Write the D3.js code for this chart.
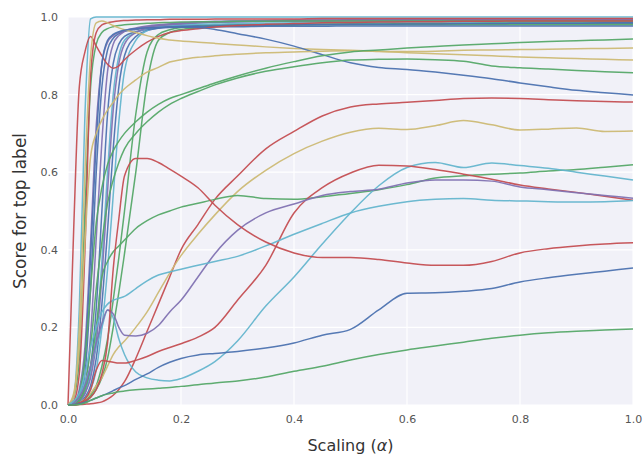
<!DOCTYPE html>
<html>
<head>
<meta charset="utf-8">
<script src="https://cdn.jsdelivr.net/npm/d3@7"></script>
<style>
  html, body { margin: 0; padding: 0; background: #ffffff; }
  svg { display: block; }
</style>
</head>
<body>
<svg id="chart" width="643" height="459"></svg>
<script>
// Scaling (alpha) sample points shared by all series
const alpha = [0,.01,.02,.03,.04,.05,.06,.07,.08,.09,.10,
               .12,.14,.16,.18,.20,
               .23,.26,.30,.35,.40,.45,
               .50,.55,.60,.65,.70,.75,.80,.85,.90,.95,1.0];

const xTicks = [0, 0.2, 0.4, 0.6, 0.8, 1.0];
const yTicks = [0, 0.2, 0.4, 0.6, 0.8, 1.0];

// ----- series values (score for top label) -----
const cyanFast = [0,.02,.25,.75,.995,1,1,1,1,1,1, 1,1,1,1,1, 1,1,1,1,1,1, 1,1,1,1,1,1,1,1,1,1,1];
const greenS2  = [0,.02,.12,.5,.82,.93,.96,.97,.975,.978,.98, .982,.984,.985,.986,.987, .988,.988,.989,.989,.99,.99, .99,.99,.99,.99,.99,.99,.99,.99,.99,.99,.99];
const purpleS4 = [0,.005,.04,.15,.42,.72,.88,.935,.952,.96,.965, .97,.975,.978,.98,.982, .985,.987,.989,.99,.991,.992, .993,.993,.994,.994,.994,.995,.995,.995,.995,.995,.995];
const blueS5   = [0,.003,.02,.08,.3,.6,.82,.915,.945,.957,.963, .968,.971,.973,.974,.975, .976,.977,.978,.979,.98,.98, .981,.981,.982,.982,.983,.983,.984,.984,.984,.985,.985];
const purpleS6 = [0,.002,.015,.05,.18,.43,.68,.86,.93,.952,.963, .972,.977,.98,.982,.984, .986,.987,.988,.989,.99,.99, .991,.991,.991,.991,.991,.992,.992,.992,.992,.992,.992];
const blueS7   = [0,.002,.01,.03,.1,.25,.5,.75,.88,.93,.95, .962,.968,.971,.973,.974, .975,.975,.975,.976,.976,.976, .977,.977,.977,.977,.977,.977,.977,.977,.977,.977,.977];
const cyanS8   = [0,.002,.01,.03,.08,.18,.37,.6,.8,.9,.94, .96,.97,.975,.978,.98, .981,.982,.983,.984,.985,.985, .986,.986,.987,.987,.987,.988,.988,.988,.988,.988,.988];
const blueS9   = [0,.001,.005,.02,.05,.12,.26,.45,.66,.82,.9, .95,.965,.972,.976,.978, .979,.98,.98,.981,.981,.982, .982,.982,.983,.983,.983,.983,.984,.984,.984,.984,.984];
const cyanS10  = [0,.001,.005,.015,.04,.09,.2,.35,.54,.73,.86, .94,.965,.975,.98,.983, .985,.986,.987,.988,.989,.989, .99,.99,.99,.99,.99,.99,.99,.99,.99,.99,.99];
const greenS11 = [0,.001,.003,.01,.025,.05,.1,.17,.27,.38,.5, .75,.91,.955,.967,.973, .976,.978,.979,.98,.981,.982, .983,.983,.984,.984,.984,.985,.985,.985,.985,.985,.985];
const greenS12 = [0,0,.002,.008,.02,.04,.07,.12,.2,.29,.39, .6,.83,.94,.96,.968, .972,.975,.977,.978,.979,.98, .98,.98,.98,.98,.98,.98,.98,.98,.98,.98,.98];
const redS13   = [0,.01,.08,.4,.85,.96,.98,.985,.988,.99,.991, .992,.993,.993,.994,.994, .994,.995,.995,.995,.995,.996, .996,.996,.996,.996,.996,.996,.996,.996,.996,.996,.996];
const purpleS15= [0,.002,.01,.03,.07,.16,.33,.55,.76,.88,.93, .96,.972,.978,.982,.985, .987,.989,.99,.991,.992,.992, .993,.993,.993,.993,.993,.993,.993,.993,.993,.993,.993];
const redDip   = [0,.45,.82,.91,.95,.925,.9,.878,.868,.874,.89, .915,.935,.95,.96,.965, .97,.974,.978,.981,.983,.985, .986,.987,.988,.988,.989,.989,.99,.99,.99,.99,.99];
const yellow92 = [0,.02,.2,.6,.9,.985,.99,.985,.978,.972,.967, .96,.952,.945,.941,.938, .935,.932,.928,.923,.919,.916, .914,.912,.911,.912,.914,.915,.916,.917,.918,.919,.92];
const blue79   = [0,.005,.03,.12,.38,.68,.88,.94,.955,.962,.966, .97,.972,.973,.974,.974, .973,.968,.957,.943,.925,.903, .882,.87,.865,.858,.85,.841,.83,.82,.811,.805,.799];
const yellow89 = [0,.03,.15,.42,.64,.7,.735,.76,.78,.8,.815, .838,.858,.87,.884,.89, .896,.9,.904,.908,.91,.912, .913,.911,.908,.905,.903,.9,.897,.895,.893,.891,.889];
const green93  = [0,.005,.03,.12,.3,.47,.56,.62,.655,.68,.7, .73,.755,.775,.79,.8, .815,.83,.848,.868,.885,.9, .91,.915,.92,.924,.928,.931,.934,.937,.939,.941,.943];
const green85  = [0,.003,.015,.05,.15,.3,.42,.52,.58,.625,.66, .7,.73,.755,.775,.79, .808,.825,.843,.86,.872,.882, .889,.891,.892,.89,.886,.874,.869,.866,.862,.859,.856];
const red77    = [0,0,.001,.002,.003,.005,.008,.015,.025,.04,.06, .12,.19,.26,.33,.4, .465,.53,.59,.66,.705,.745, .768,.776,.78,.785,.79,.791,.79,.787,.784,.782,.781];
const yellow70 = [0,0,.005,.015,.03,.05,.07,.1,.13,.15,.165, .2,.24,.29,.34,.385, .44,.49,.55,.605,.648,.68, .703,.713,.71,.72,.733,.722,.709,.711,.714,.705,.706];
const green61  = [0,0,.01,.04,.1,.2,.33,.37,.395,.41,.425, .455,.475,.49,.5,.51, .52,.53,.54,.532,.53,.537, .545,.555,.568,.585,.591,.595,.598,.603,.607,.613,.619];
const cyan58   = [0,.005,.02,.06,.1,.15,.2,.245,.225,.17,.13, .085,.07,.064,.062,.068, .087,.112,.165,.255,.33,.415, .495,.565,.612,.625,.612,.624,.617,.61,.6,.59,.58];
const red53    = [0,0,.005,.015,.04,.09,.115,.113,.11,.108,.108, .115,.125,.138,.148,.158, .175,.2,.27,.36,.495,.56, .598,.618,.616,.607,.595,.582,.567,.557,.548,.538,.528];
const purple53 = [0,.005,.02,.05,.1,.16,.21,.245,.235,.2,.18, .178,.185,.205,.24,.27, .33,.39,.45,.495,.518,.54, .55,.556,.572,.58,.58,.577,.562,.555,.547,.54,.533];
const cyan52   = [0,.01,.03,.08,.15,.2,.24,.26,.27,.275,.28, .3,.32,.335,.343,.35, .36,.37,.383,.41,.44,.468, .495,.512,.524,.53,.532,.528,.526,.524,.523,.524,.527];
const red42    = [0,0,.005,.01,.02,.04,.08,.16,.35,.48,.59, .635,.635,.625,.608,.59, .56,.515,.465,.42,.392,.38, .38,.375,.366,.36,.36,.37,.392,.403,.41,.415,.418];
const blue35   = [0,.001,.003,.007,.012,.018,.024,.03,.037,.044,.05, .066,.08,.097,.11,.12, .129,.133,.138,.147,.16,.18, .195,.245,.288,.289,.293,.3,.317,.328,.337,.345,.353];
const green20  = [0,0,.001,.005,.012,.018,.024,.028,.031,.034,.036, .039,.041,.043,.045,.048, .052,.057,.062,.072,.087,.1, .116,.13,.142,.152,.162,.172,.18,.186,.19,.193,.196];

// seaborn "deep" palette
const palette = { blue: "#4C72B0", green: "#55A868", red: "#C44E52", purple: "#8172B2", yellow: "#CCB974", cyan: "#64B5CD" };

const seriesList = [
  [blueS9, "blue"], [cyanS10, "cyan"], [greenS12, "green"], [greenS11, "green"],
  [blueS7, "blue"], [cyanS8, "cyan"], [blueS5, "blue"], [purpleS15, "purple"],
  [purpleS6, "purple"], [purpleS4, "purple"], [greenS2, "green"], [cyanFast, "cyan"],
  [redS13, "red"], [redDip, "red"],
  [yellow92, "yellow"], [blue79, "blue"], [yellow89, "yellow"], [green93, "green"], [green85, "green"],
  [red77, "red"], [yellow70, "yellow"], [green61, "green"], [cyan58, "cyan"], [red53, "red"],
  [purple53, "purple"], [cyan52, "cyan"], [red42, "red"], [blue35, "blue"], [green20, "green"]
];

(function () {
  const svg = d3.select("#chart");
  const pL = 68, pR = 633, pT = 17, pB = 405;
  const x = d3.scaleLinear().domain([0, 1]).range([pL, pR]);
  const y = d3.scaleLinear().domain([0, 1]).range([pB, pT]);

  // background
  svg.append("rect").attr("x", pL).attr("y", pT)
    .attr("width", pR - pL).attr("height", pB - pT)
    .attr("fill", "#F1F1F8");

  // grid
  const grid = svg.append("g");
  grid.selectAll("line.v").data(xTicks).join("line").attr("class", "v")
    .attr("x1", d => x(d)).attr("x2", d => x(d)).attr("y1", pT).attr("y2", pB)
    .attr("stroke", "#ffffff").attr("stroke-width", 1.2);
  grid.selectAll("line.h").data(yTicks).join("line").attr("class", "h")
    .attr("y1", d => y(d)).attr("y2", d => y(d)).attr("x1", pL).attr("x2", pR)
    .attr("stroke", "#ffffff").attr("stroke-width", 1.2);

  // axes (labels only, no domain / tick marks)
  const xAxis = d3.axisBottom(x).tickValues(xTicks).tickFormat(d3.format(".1f")).tickSize(0).tickPadding(10);
  const yAxis = d3.axisLeft(y).tickValues(yTicks).tickFormat(d3.format(".1f")).tickSize(0).tickPadding(10);
  const gx = svg.append("g").attr("transform", `translate(0,${pB})`).call(xAxis);
  const gy = svg.append("g").attr("transform", `translate(${pL},0)`).call(yAxis);
  [gx, gy].forEach(g => {
    g.select(".domain").remove();
    g.selectAll("text").attr("fill", "#555").style("font-family", "DejaVu Sans").style("font-size", "11px");
  });

  // lines
  const line = d3.line()
    .x((d, i) => x(alpha[i]))
    .y(d => y(d))
    .curve(d3.curveMonotoneX);

  svg.append("g").selectAll("path").data(seriesList).join("path")
    .attr("d", d => line(d[0]))
    .attr("fill", "none")
    .attr("stroke", d => palette[d[1]])
    .attr("stroke-width", 1.5)
    .attr("stroke-opacity", 0.95)
    .attr("stroke-linejoin", "round");

  // axis titles
  svg.append("text")
    .attr("x", (pL + pR) / 2).attr("y", 451)
    .attr("text-anchor", "middle")
    .attr("fill", "#333").style("font-family", "DejaVu Sans").style("font-size", "16px")
    .html('Scaling (<tspan font-style="italic">α</tspan>)');

  svg.append("text")
    .attr("transform", `translate(26,${(pT + pB) / 2}) rotate(-90)`)
    .attr("text-anchor", "middle")
    .attr("fill", "#333").style("font-family", "DejaVu Sans").style("font-size", "17px")
    .text("Score for top label");
})();
</script>
</body>
</html>
